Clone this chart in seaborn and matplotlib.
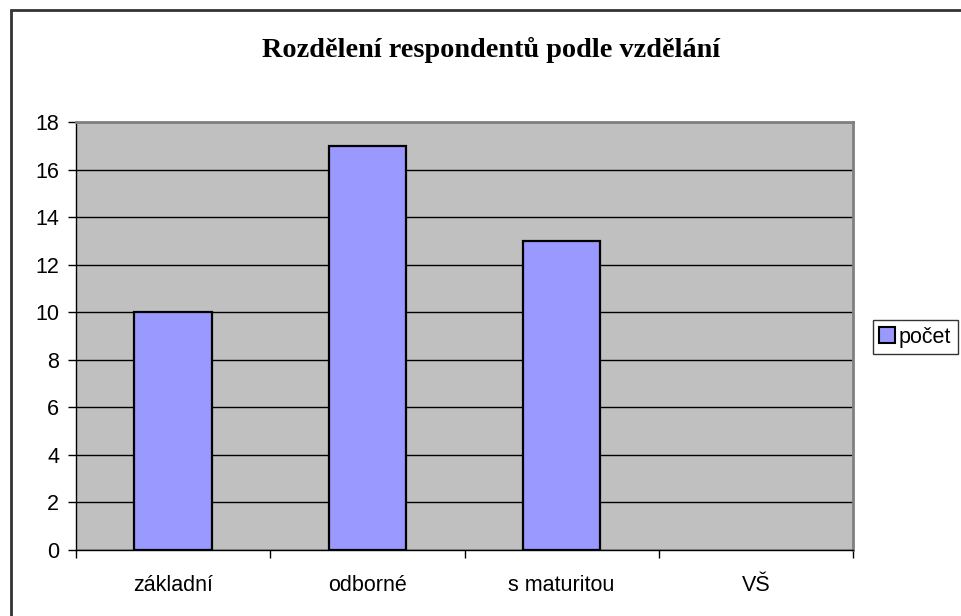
import matplotlib
matplotlib.use("Agg")
import matplotlib.pyplot as plt
import seaborn as sns
from matplotlib.patches import Rectangle
from matplotlib.ticker import FixedLocator

# data
categories = ["základní", "odborné", "s maturitou", "VŠ"]
counts = [10, 17, 13, 0]
series_name = "počet"

sns.set_style("white")
plt.rcParams["font.family"] = ["Liberation Sans", "DejaVu Sans"]
plt.rcParams["text.color"] = "black"
plt.rcParams["xtick.color"] = "black"
plt.rcParams["ytick.color"] = "black"

fig = plt.figure(figsize=(9.61, 6.16), dpi=100)
ax = fig.add_axes([76 / 961, 1 - 550 / 616, (853 - 76) / 961, (550 - 122) / 616])

ax.set_facecolor("#C0C0C0")
ax.set_axisbelow(True)
ax.yaxis.grid(True, color="black", linewidth=1)

sns.barplot(x=categories, y=counts, color="#9999FF", width=0.4,
            edgecolor="black", linewidth=1.6, saturation=1, ax=ax, label=series_name)

# Excel draws nothing for an empty bar
for p in ax.patches:
    if p.get_height() == 0:
        p.set_visible(False)

ax.set_ylim(0, 18)
ax.set_yticks(range(0, 19, 2))
ax.set_xlim(-0.5, 3.5)
ax.set_xlabel("")
ax.set_ylabel("")

fs = 15.5

# tick marks between categories on x, outside ticks on y
ax.xaxis.set_minor_locator(FixedLocator([-0.5, 0.5, 1.5, 2.5, 3.5]))
ax.tick_params(axis="x", which="major", length=0, pad=18, labelsize=fs)
ax.tick_params(axis="x", which="minor", length=6, width=1, color="black", direction="out")
ax.tick_params(axis="y", length=6, width=1, color="black", direction="out", labelsize=fs, pad=6)
ax.tick_params(bottom=True, left=True, which="both")

for side in ["top", "right"]:
    ax.spines[side].set_color("#808080")
    ax.spines[side].set_linewidth(2)
ax.spines["left"].set_color("black")
ax.spines["bottom"].set_color("black")
ax.spines["left"].set_linewidth(1)
ax.spines["bottom"].set_linewidth(1)

fig.text(491 / 961, 1 - 50 / 616, "Rozdělení respondentů podle vzdělání",
         ha="center", va="center", fontsize=20.3, fontweight="bold", color="black",
         family=["Liberation Serif", "DejaVu Serif"])

leg = ax.legend(loc="center left", bbox_to_anchor=(873 / 961, 1 - 337 / 616),
                bbox_transform=fig.transFigure, frameon=True, fancybox=False,
                fontsize=fs, handlelength=0.7, handleheight=0.7, handletextpad=0.2,
                borderpad=0.3, borderaxespad=0)
leg.get_frame().set_edgecolor("black")
leg.get_frame().set_linewidth(1)
for h in leg.legend_handles:
    h.set_linewidth(1.5)

# outer chart frame (only top and left visible)
fig.patches.append(Rectangle((10.5 / 961, -0.1), 2, (616 - 9.5) / 616 + 0.1,
                             transform=fig.transFigure, fill=False,
                             edgecolor="#333333", linewidth=2))

fig.savefig("out.png", dpi=100, facecolor="white")
